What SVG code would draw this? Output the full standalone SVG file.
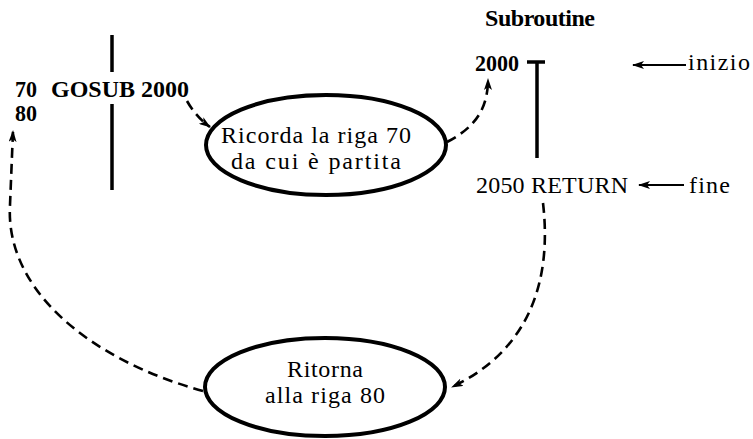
<svg xmlns="http://www.w3.org/2000/svg" width="753" height="439" viewBox="0 0 753 439">
<style>
text{font-family:"Liberation Serif","Times New Roman",serif;fill:#000;font-size:24px}
.b{font-weight:bold}
.node{fill:#fff;stroke:#000;stroke-width:4}
.bar{stroke:#000;stroke-width:3.5;fill:none}
.dash{fill:none;stroke:#000;stroke-width:2.6;stroke-dasharray:10 6}
.solid{fill:none;stroke:#000;stroke-width:2}
</style>
<defs>
<marker id="ah" viewBox="0 0 12 8" refX="11" refY="4" markerWidth="12" markerHeight="8" markerUnits="userSpaceOnUse" orient="auto">
<path d="M0,0 L12,4 L0,8 L3,4 Z" fill="#000"/>
</marker>
</defs>
<rect width="753" height="439" fill="#fff"/>

<g id="main-program">
<line class="bar" x1="112" y1="35" x2="112" y2="72"/>
<line class="bar" x1="112" y1="104" x2="112" y2="190"/>
<text class="b" x="15" y="97" textLength="22" lengthAdjust="spacingAndGlyphs">70</text>
<text class="b" x="51" y="97" textLength="138" lengthAdjust="spacing">GOSUB 2000</text>
<text class="b" x="15" y="121" textLength="22" lengthAdjust="spacingAndGlyphs">80</text>
</g>

<g id="subroutine">
<text class="b" x="485" y="26" textLength="110" lengthAdjust="spacing">Subroutine</text>
<text class="b" x="475" y="71" textLength="44" lengthAdjust="spacingAndGlyphs">2000</text>
<line class="bar" x1="527" y1="62" x2="545" y2="62"/>
<line class="bar" x1="537" y1="62" x2="537" y2="158"/>
<text x="476" y="193" textLength="152" lengthAdjust="spacing">2050 RETURN</text>
<line class="solid" x1="686" y1="65" x2="633" y2="65" marker-end="url(#ah)"/>
<text x="688" y="70" textLength="62" lengthAdjust="spacing">inizio</text>
<line class="solid" x1="684" y1="185" x2="639" y2="185" marker-end="url(#ah)"/>
<text x="689" y="193" textLength="41" lengthAdjust="spacing">fine</text>
</g>

<g id="ricorda">
<ellipse class="node" cx="326" cy="145" rx="120" ry="50"/>
<text x="221" y="143" textLength="190" lengthAdjust="spacing">Ricorda la riga 70</text>
<text x="231" y="169" textLength="170" lengthAdjust="spacing">da cui è partita</text>
</g>

<g id="ritorna">
<ellipse class="node" cx="325" cy="387" rx="120" ry="49"/>
<text x="287" y="377" textLength="76" lengthAdjust="spacing">Ritorna</text>
<text x="265" y="403" textLength="120" lengthAdjust="spacing">alla riga 80</text>
</g>

<g id="connectors">
<path class="dash" d="M187,101 Q196,117 210,127" marker-end="url(#ah)"/>
<path class="dash" d="M447,142 C474,128 488,110 488,79" marker-end="url(#ah)"/>
<path class="dash" d="M543,203 C552,280 530,350 452,387" marker-end="url(#ah)"/>
<path class="dash" d="M203,391 C90,360 5,290 10,205 L13,131" marker-end="url(#ah)"/>
</g>
</svg>
